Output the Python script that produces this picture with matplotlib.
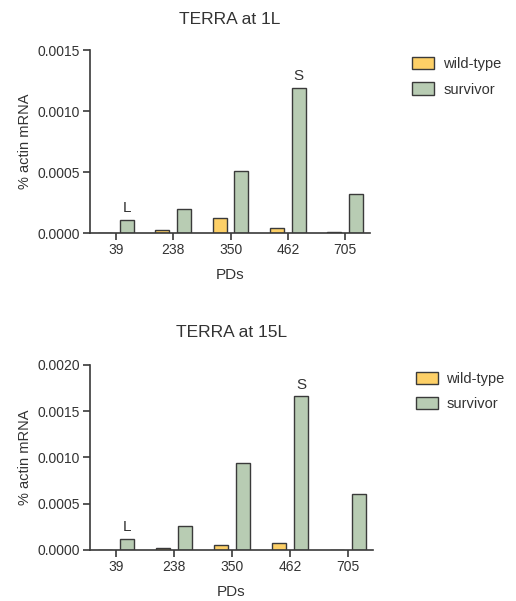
import matplotlib.pyplot as plt
import numpy as np

plt.rcParams['font.family'] = ['Liberation Sans', 'DejaVu Sans']

pds = ['39', '238', '350', '462', '705']
wt_1l = [0.000003, 0.000027, 0.00012, 0.000038, 0.000012]
surv_1l = [0.00011, 0.000197, 0.00051, 0.00119, 0.000317]
wt_15l = [0.0, 0.000018, 0.000055, 0.00008, 0.0]
surv_15l = [0.00012, 0.00026, 0.00094, 0.00166, 0.0006]

wt_color = '#fdd067'
surv_color = '#b8ccb3'
edge = '#3a3a3a'
txt = '#333333'

fig = plt.figure(figsize=(5.16, 6.01), dpi=100)
ax1 = fig.add_axes([0.1744, 0.6123, 0.5426, 0.3045])
ax2 = fig.add_axes([0.1744, 0.0849, 0.5484, 0.3078])

x = np.arange(len(pds))
w = 0.245
off = 0.19


def draw(ax, wt, surv, title, ymax, yticks, marks, tpad, leg_anchor):
    ax.bar(x - off, wt, w, color=wt_color, edgecolor=edge, linewidth=1.0,
           label='wild-type')
    ax.bar(x + off, surv, w, color=surv_color, edgecolor=edge, linewidth=1.0,
           label='survivor')
    ax.set_xlim(-0.45, 4.43)
    ax.set_ylim(0, ymax)
    ax.set_yticks(yticks)
    ax.set_yticklabels([f'{t:.4f}' for t in yticks])
    ax.set_xticks(x)
    ax.set_xticklabels(pds)
    for s in ['top', 'right']:
        ax.spines[s].set_visible(False)
    for s in ['left', 'bottom']:
        ax.spines[s].set_linewidth(1.2)
        ax.spines[s].set_color(edge)
    ax.tick_params(direction='out', length=5, width=1.2, colors=edge,
                   labelcolor=txt, labelsize=10, pad=2)
    ax.set_xlabel('PDs', fontsize=11, color=txt, labelpad=8)
    ax.set_ylabel('% actin mRNA', fontsize=10.5, color=txt, labelpad=4)
    ax.set_title(title, fontsize=12.5, color=txt, pad=tpad)
    for i, lab in marks:
        ax.text(x[i] + off, surv[i] + ymax * 0.025, lab, ha='center',
                va='bottom', fontsize=11, color=txt)
    leg = ax.legend(loc='upper left', bbox_to_anchor=leg_anchor, frameon=False,
                    fontsize=10.5, handlelength=1.5, handleheight=0.9,
                    labelspacing=0.8, handletextpad=0.6)
    for t in leg.get_texts():
        t.set_color(txt)


draw(ax1, wt_1l, surv_1l, 'TERRA at 1L', 0.0015,
     [0.0, 0.0005, 0.0010, 0.0015], [(0, 'L'), (3, 'S')], 19, (1.105, 1.035))
draw(ax2, wt_15l, surv_15l, 'TERRA at 15L', 0.0020,
     [0.0, 0.0005, 0.0010, 0.0015, 0.0020], [(0, 'L'), (3, 'S')], 20, (1.105, 1.035))

fig.savefig('out.png', dpi=100)
